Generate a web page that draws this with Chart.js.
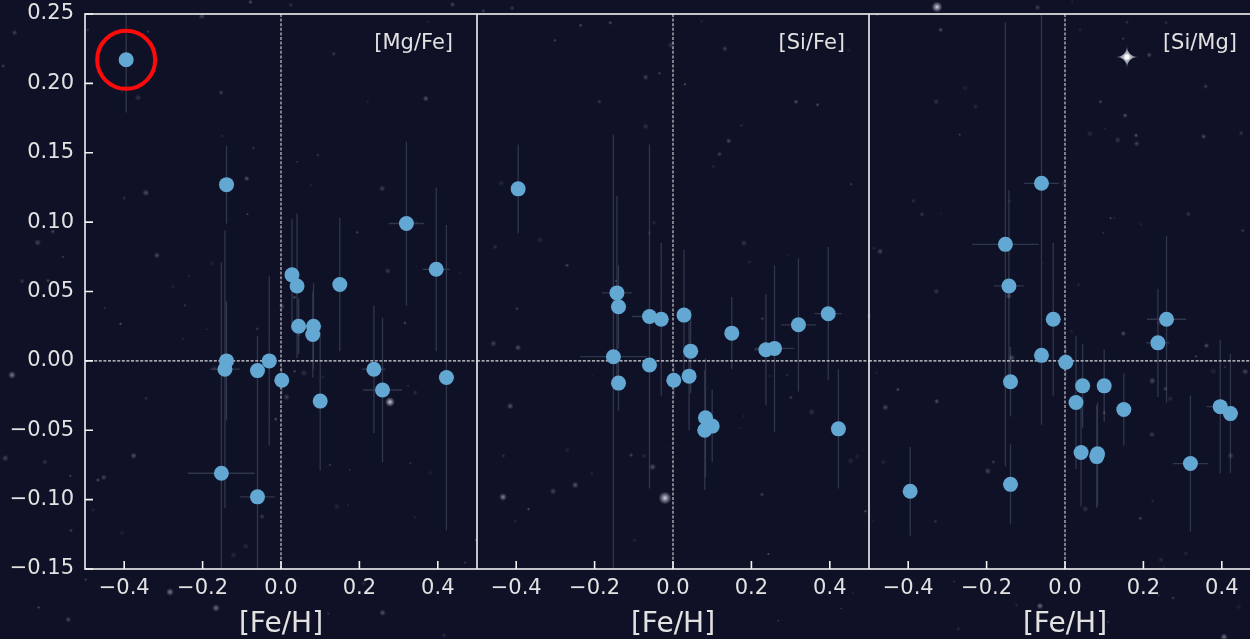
<!DOCTYPE html>
<html>
<head>
<meta charset="utf-8">
<script src="https://cdn.jsdelivr.net/npm/chart.js@4.4.1/dist/chart.umd.min.js"></script>
<style>
    html, body { margin: 0; padding: 0; width: 1250px; height: 639px; overflow: hidden; background: #0f1126; }
    .painel { position: absolute; top: 0; height: 639px; }
</style>
</head>
<body>
<div class="painel" style="left:0px"><canvas id="grafico1" width="477" height="639"></canvas></div>
<div class="painel" style="left:477px"><canvas id="grafico2" width="392" height="639"></canvas></div>
<div class="painel" style="left:869px"><canvas id="grafico3" width="392" height="639"></canvas></div>

<script>
// [Fe/H] de cada estrela e as tres razoes de abundancia
var feh = [-0.395, -0.152, -0.139, -0.139, -0.143, -0.060, -0.060, -0.030, 0.002, 0.028, 0.041, 0.045, 0.083, 0.081, 0.100, 0.150, 0.237, 0.259, 0.320, 0.396, 0.422];
var fehErro = [0.015, 0.085, 0.020, 0.020, 0.038, 0.045, 0.020, 0.015, 0.015, 0.015, 0.015, 0.020, 0.020, 0.020, 0.015, 0.015, 0.030, 0.050, 0.045, 0.035, 0.020];

var mgfe = [0.217, -0.081, 0.127, 0.000, -0.006, -0.098, -0.007, 0.000, -0.014, 0.062, 0.054, 0.025, 0.025, 0.019, -0.029, 0.055, -0.006, -0.021, 0.099, 0.066, -0.012];
var mgfeErro = [0.038, 0.152, 0.028, 0.043, 0.100, 0.105, 0.025, 0.061, 0.010, 0.040, 0.052, 0.020, 0.031, 0.031, 0.050, 0.048, 0.046, 0.052, 0.059, 0.059, 0.110];

var sife = [0.124, 0.003, 0.039, -0.016, 0.049, 0.032, -0.003, 0.030, -0.014, 0.033, -0.011, 0.007, -0.041, -0.050, -0.047, 0.020, 0.008, 0.009, 0.026, 0.034, -0.049];
var sifeErro = [0.032, 0.160, 0.030, 0.020, 0.070, 0.124, 0.030, 0.055, 0.012, 0.047, 0.039, 0.030, 0.043, 0.043, 0.026, 0.026, 0.040, 0.060, 0.048, 0.048, 0.043];

var simg = [-0.094, 0.084, -0.089, -0.015, 0.054, 0.128, 0.004, 0.030, -0.001, -0.030, -0.066, -0.018, -0.067, -0.069, -0.018, -0.035, 0.013, 0.030, -0.074, -0.033, -0.038];
var simgErro = [0.032, 0.160, 0.029, 0.025, 0.069, 0.130, 0.050, 0.055, 0.012, 0.048, 0.039, 0.030, 0.037, 0.037, 0.026, 0.026, 0.039, 0.060, 0.049, 0.048, 0.043];

var ticksX = [-0.4, -0.2, 0.0, 0.2, 0.4];
var ticksY = [-0.15, -0.10, -0.05, 0.00, 0.05, 0.10, 0.15, 0.20, 0.25];

// estrela marcada com o circulo vermelho no painel [Mg/Fe]
var estrelaDestaque = 0;

var corTexto = '#e2e2e2';
var corPonto = '#62a8d2';
var fonte = '"DejaVu Sans", sans-serif';

// ceu de fundo (so enfeite)
var semente = 12345;
function aleatorio() {
    semente = (semente * 16807) % 2147483647;
    return semente / 2147483647;
}

var estrelas = [];
for (let i = 0; i < 240; i++) {
    estrelas.push({
        x: aleatorio() * 1261,
        y: aleatorio() * 639,
        r: 0.5 + aleatorio() * 1.0,
        a: 0.06 + aleatorio() * 0.28
    });
}
// algumas mais brilhantes
estrelas.push({ x: 937, y: 7, r: 2.2, a: 0.9 });
estrelas.push({ x: 665, y: 498, r: 2.6, a: 0.9 });
estrelas.push({ x: 390, y: 402, r: 2.0, a: 0.85 });
estrelas.push({ x: 12, y: 375, r: 1.6, a: 0.5 });
estrelas.push({ x: 170, y: 592, r: 1.6, a: 0.5 });
estrelas.push({ x: 216, y: 608, r: 1.6, a: 0.45 });
estrelas.push({ x: 503, y: 497, r: 1.6, a: 0.55 });
estrelas.push({ x: 1040, y: 606, r: 1.4, a: 0.45 });
estrelas.push({ x: 1224, y: 637, r: 1.5, a: 0.45 });

function formatar(valor, casas) {
    return valor.toFixed(casas).replace('-', '\u2212');
}

const pluginCeu = {
    id: 'ceu',
    beforeDraw: function (chart, args, opcoes) {
        const ctx = chart.ctx;
        const desloc = opcoes.deslocamento;
        ctx.save();
        for (let i = 0; i < estrelas.length; i++) {
            const e = estrelas[i];
            const x = e.x - desloc;
            if (x < -10 || x > chart.width + 10) continue;
            const g = ctx.createRadialGradient(x, e.y, 0, x, e.y, e.r * 2.5);
            g.addColorStop(0, 'rgba(235,235,245,' + e.a + ')');
            g.addColorStop(0.4, 'rgba(220,220,235,' + (e.a * 0.6) + ')');
            g.addColorStop(1, 'rgba(200,200,220,0)');
            ctx.fillStyle = g;
            ctx.beginPath();
            ctx.arc(x, e.y, e.r * 2.5, 0, Math.PI * 2);
            ctx.fill();
        }
        if (opcoes.brilho) {
            // estrela de quatro pontas
            const bx = 1127 - desloc, by = 57, t = 12;
            const g = ctx.createRadialGradient(bx, by, 0, bx, by, t);
            g.addColorStop(0, 'rgba(255,255,255,1)');
            g.addColorStop(0.5, 'rgba(235,235,245,0.6)');
            g.addColorStop(1, 'rgba(220,220,240,0.1)');
            ctx.fillStyle = g;
            ctx.beginPath();
            ctx.moveTo(bx, by - t);
            ctx.quadraticCurveTo(bx, by, bx + t, by);
            ctx.quadraticCurveTo(bx, by, bx, by + t);
            ctx.quadraticCurveTo(bx, by, bx - t, by);
            ctx.quadraticCurveTo(bx, by, bx, by - t);
            ctx.fill();
            ctx.fillStyle = 'rgba(255,255,255,0.9)';
            ctx.beginPath();
            ctx.arc(bx, by, 2.5, 0, Math.PI * 2);
            ctx.fill();
        }
        ctx.restore();
    }
};

const pluginErros = {
    id: 'erros',
    beforeDatasetsDraw: function (chart, args, opcoes) {
        const ctx = chart.ctx;
        const area = chart.chartArea;
        const sx = chart.scales.x;
        const sy = chart.scales.y;
        ctx.save();
        ctx.beginPath();
        ctx.rect(area.left, area.top, area.right - area.left, area.bottom - area.top);
        ctx.clip();

        // linhas tracejadas no zero
        ctx.strokeStyle = 'rgba(255,255,255,0.85)';
        ctx.lineWidth = 1.1;
        ctx.setLineDash([3, 1.6]);
        ctx.beginPath();
        ctx.moveTo(sx.getPixelForValue(0), area.top);
        ctx.lineTo(sx.getPixelForValue(0), area.bottom);
        ctx.moveTo(area.left, sy.getPixelForValue(0));
        ctx.lineTo(area.right, sy.getPixelForValue(0));
        ctx.stroke();
        ctx.setLineDash([]);

        // barras de erro
        ctx.strokeStyle = 'rgba(170,185,210,0.22)';
        ctx.lineWidth = 1.3;
        ctx.beginPath();
        for (let i = 0; i < feh.length; i++) {
            const v = opcoes.valores[i];
            const e = opcoes.erros[i];
            const px = sx.getPixelForValue(feh[i]);
            const py = sy.getPixelForValue(v);
            ctx.moveTo(px, sy.getPixelForValue(v - e));
            ctx.lineTo(px, sy.getPixelForValue(v + e));
            ctx.moveTo(sx.getPixelForValue(feh[i] - fehErro[i]), py);
            ctx.lineTo(sx.getPixelForValue(feh[i] + fehErro[i]), py);
        }
        ctx.stroke();
        ctx.restore();
    }
};

const pluginMoldura = {
    id: 'moldura',
    afterDraw: function (chart, args, opcoes) {
        const ctx = chart.ctx;
        const area = chart.chartArea;
        const sx = chart.scales.x;
        const sy = chart.scales.y;
        ctx.save();
        ctx.strokeStyle = '#f2f2f2';
        ctx.lineWidth = 1.6;
        ctx.strokeRect(area.left, area.top, area.right - area.left, area.bottom - area.top);

        // ticks para dentro
        ctx.beginPath();
        for (let i = 0; i < ticksX.length; i++) {
            const x = sx.getPixelForValue(ticksX[i]);
            ctx.moveTo(x, area.bottom);
            ctx.lineTo(x, area.bottom - 8);
        }
        if (opcoes.eixoY) {
            for (let i = 0; i < ticksY.length; i++) {
                const y = sy.getPixelForValue(ticksY[i]);
                ctx.moveTo(area.left, y);
                ctx.lineTo(area.left + 8, y);
            }
        }
        ctx.stroke();

        if (opcoes.destaque !== null) {
            const k = opcoes.destaque;
            ctx.strokeStyle = '#ff0a0a';
            ctx.lineWidth = 4;
            ctx.beginPath();
            ctx.arc(sx.getPixelForValue(feh[k]), sy.getPixelForValue(opcoes.valores[k]), 29, 0, Math.PI * 2);
            ctx.stroke();
        }

        ctx.fillStyle = corTexto;
        ctx.font = '21px ' + fonte;
        ctx.textAlign = 'right';
        ctx.textBaseline = 'middle';
        ctx.fillText(opcoes.rotulo, area.right - 24, area.top + 30);
        ctx.restore();
    }
};

function semFolga(scale) {
    scale.paddingLeft = 0;
    scale.paddingRight = 0;
    scale.paddingTop = 0;
    scale.paddingBottom = 0;
}

function criarPainel(idCanvas, rotulo, valores, erros, deslocamento, eixoY, brilho, destaque) {
    const pontos = [];
    for (let i = 0; i < feh.length; i++) {
        pontos.push({ x: feh[i], y: valores[i] });
    }

    const config = {
        type: 'scatter',
        data: {
            datasets: [{
                data: pontos,
                backgroundColor: corPonto,
                borderWidth: 0,
                pointRadius: 7.5,
                pointHoverRadius: 7.5
            }]
        },
        options: {
            responsive: false,
            animation: false,
            events: [],
            layout: { autoPadding: false, padding: { top: 14, right: 0, bottom: 0, left: 0 } },
            plugins: {
                legend: { display: false },
                tooltip: { enabled: false },
                ceu: { deslocamento: deslocamento, brilho: brilho },
                erros: { valores: valores, erros: erros },
                moldura: { rotulo: rotulo, eixoY: eixoY, valores: valores, destaque: destaque }
            },
            scales: {
                x: {
                    type: 'linear',
                    min: -0.5,
                    max: 0.5,
                    afterBuildTicks: function (scale) {
                        scale.ticks = ticksX.map(function (v) { return { value: v }; });
                    },
                    afterFit: function (scale) {
                        scale.height = 70;
                        semFolga(scale);
                    },
                    grid: { display: false, drawTicks: false },
                    border: { display: false },
                    ticks: {
                        color: corTexto,
                        font: { family: fonte, size: 21 },
                        padding: 7,
                        maxRotation: 0,
                        autoSkip: false,
                        callback: function (v) { return formatar(v, 1); }
                    },
                    title: {
                        display: true,
                        text: '[Fe/H]',
                        color: corTexto,
                        font: { family: fonte, size: 28, lineHeight: 1 },
                        padding: 0
                    }
                },
                y: {
                    type: 'linear',
                    display: eixoY,
                    min: -0.15,
                    max: 0.25,
                    afterBuildTicks: function (scale) {
                        scale.ticks = ticksY.map(function (v) { return { value: v }; });
                    },
                    afterFit: function (scale) {
                        scale.width = eixoY ? 85 : 0;
                        semFolga(scale);
                    },
                    grid: { display: false, drawTicks: false },
                    border: { display: false },
                    ticks: {
                        color: corTexto,
                        font: { family: fonte, size: 21 },
                        padding: 11,
                        autoSkip: false,
                        callback: function (v) { return formatar(v, 2); }
                    }
                }
            }
        },
        plugins: [pluginCeu, pluginErros, pluginMoldura]
    };

    return new Chart(document.getElementById(idCanvas), config);
}

criarPainel('grafico1', '[Mg/Fe]', mgfe, mgfeErro, 0, true, false, estrelaDestaque);
criarPainel('grafico2', '[Si/Fe]', sife, sifeErro, 477, false, false, null);
criarPainel('grafico3', '[Si/Mg]', simg, simgErro, 869, false, true, null);
</script>
</body>
</html>
